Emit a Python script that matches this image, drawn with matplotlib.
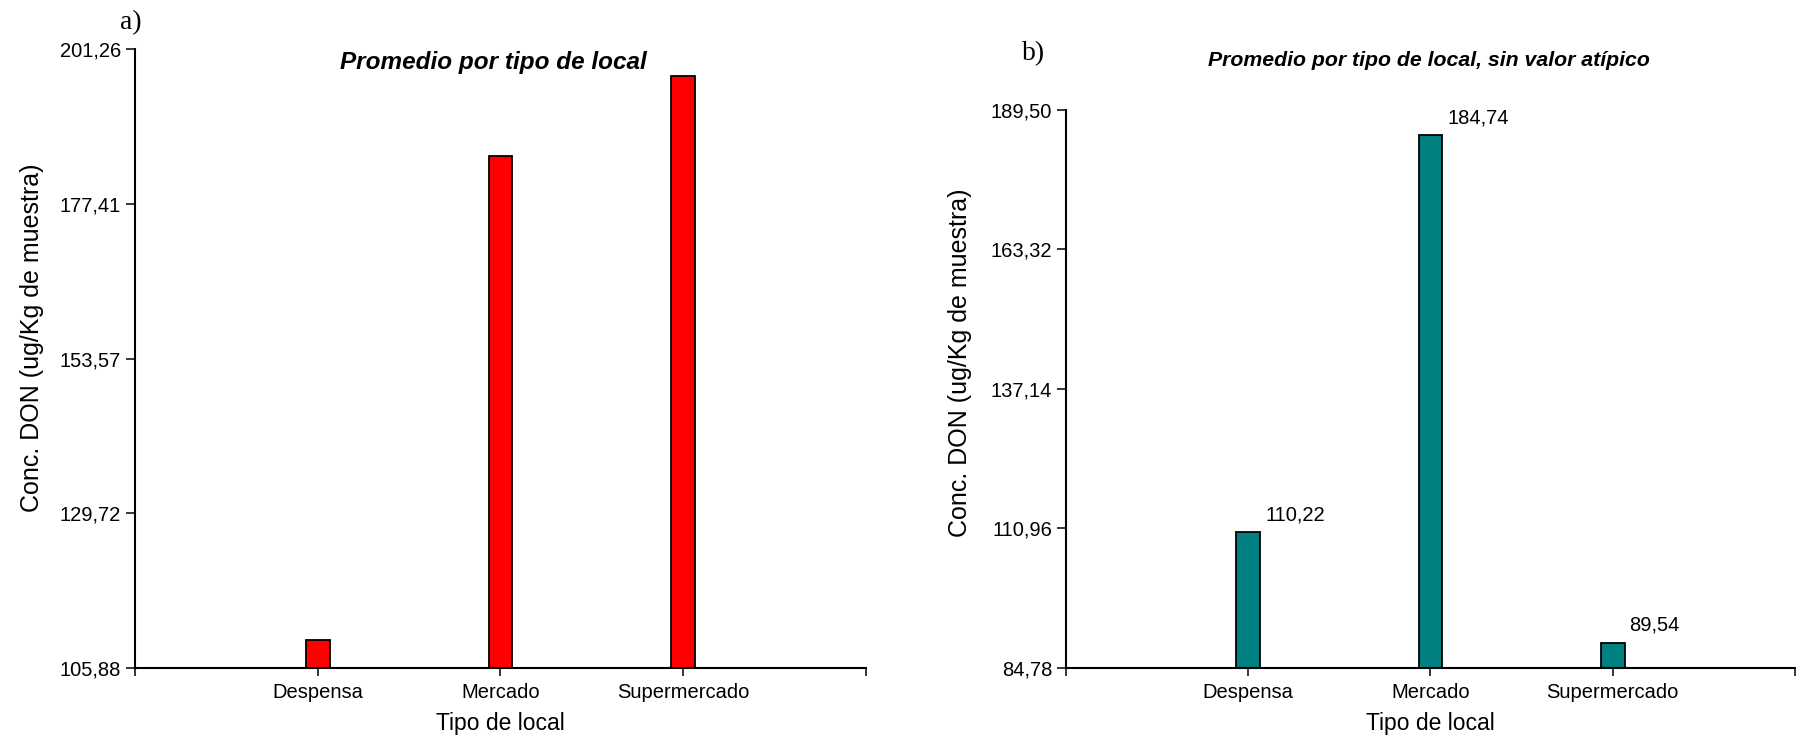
import matplotlib
matplotlib.use('Agg')
import matplotlib.pyplot as plt

plt.rcParams['font.family'] = ['Liberation Sans', 'DejaVu Sans']

# data
categorias = ['Despensa', 'Mercado', 'Supermercado']
promedio_a = [110.22, 184.74, 197.13]
promedio_b = [110.22, 184.74, 89.54]
yticks_a = [105.88, 129.72, 153.57, 177.41, 201.26]
yticks_b = [84.78, 110.96, 137.14, 163.32, 189.50]


def coma(v):
    return '{:.2f}'.format(v).replace('.', ',')


def dibujar(ax, valores, yticks, color, etiquetas=False):
    x = list(range(1, len(valores) + 1))
    bars = ax.bar(x, valores, width=0.13, color=color, edgecolor='black',
                  linewidth=1.3, zorder=2)
    ax.set_xlim(0, 4)
    ax.set_ylim(yticks[0], yticks[-1])
    ax.set_yticks(yticks)
    ax.set_yticklabels([coma(t) for t in yticks])
    ax.set_xticks([0] + x + [4])
    ax.set_xticklabels([''] + categorias + [''])
    for s in ['top', 'right']:
        ax.spines[s].set_visible(False)
    for s in ['left', 'bottom']:
        ax.spines[s].set_linewidth(1.5)
        ax.spines[s].set_zorder(3)
    ax.tick_params(axis='y', direction='out', length=6.5, width=1.1,
                   pad=3.5, labelsize=14.5)
    ax.tick_params(axis='x', direction='out', length=6, width=1.1,
                   pad=5, labelsize=14.5)
    ax.set_xlabel('Tipo de local', fontsize=16.5, va='center')
    ax.set_ylabel('Conc. DON (ug/Kg de muestra)', fontsize=18, va='center')
    if etiquetas:
        for b, v in zip(bars, valores):
            ax.annotate(coma(v), (b.get_x() + b.get_width(), v),
                        xytext=(5, 8), textcoords='offset pixels',
                        ha='left', va='bottom', fontsize=14.5)
    return bars


fig = plt.figure(figsize=(17.96, 7.39), dpi=100)
ax1 = fig.add_axes([0.07517, 0.09608, 0.4070, 0.8376])
ax2 = fig.add_axes([0.5935, 0.09608, 0.4059, 0.7551])

dibujar(ax1, promedio_a, yticks_a, '#FF0000')
dibujar(ax2, promedio_b, yticks_b, '#008080', etiquetas=True)

ax1.xaxis.set_label_coords(0.5, -0.089)
ax1.yaxis.set_label_coords(-0.141, 0.533)
ax2.xaxis.set_label_coords(0.5, -0.099)
ax2.yaxis.set_label_coords(-0.145, 0.547)

fig.text(493 / 1796, 1 - 62 / 739, 'Promedio por tipo de local',
         ha='center', va='center', fontsize=17.5, fontweight='bold',
         fontstyle='italic')
fig.text(1429 / 1796, 1 - 60 / 739,
         'Promedio por tipo de local, sin valor atípico',
         ha='center', va='center', fontsize=15.3, fontweight='bold',
         fontstyle='italic')

fig.text(131 / 1796, 1 - 23 / 739, 'a)', ha='center', va='center',
         fontsize=20, family='Liberation Serif')
fig.text(1034 / 1796, 1 - 54 / 739, 'b)', ha='center', va='center',
         fontsize=20, family='Liberation Serif')

fig.savefig('out.png', dpi=100)
